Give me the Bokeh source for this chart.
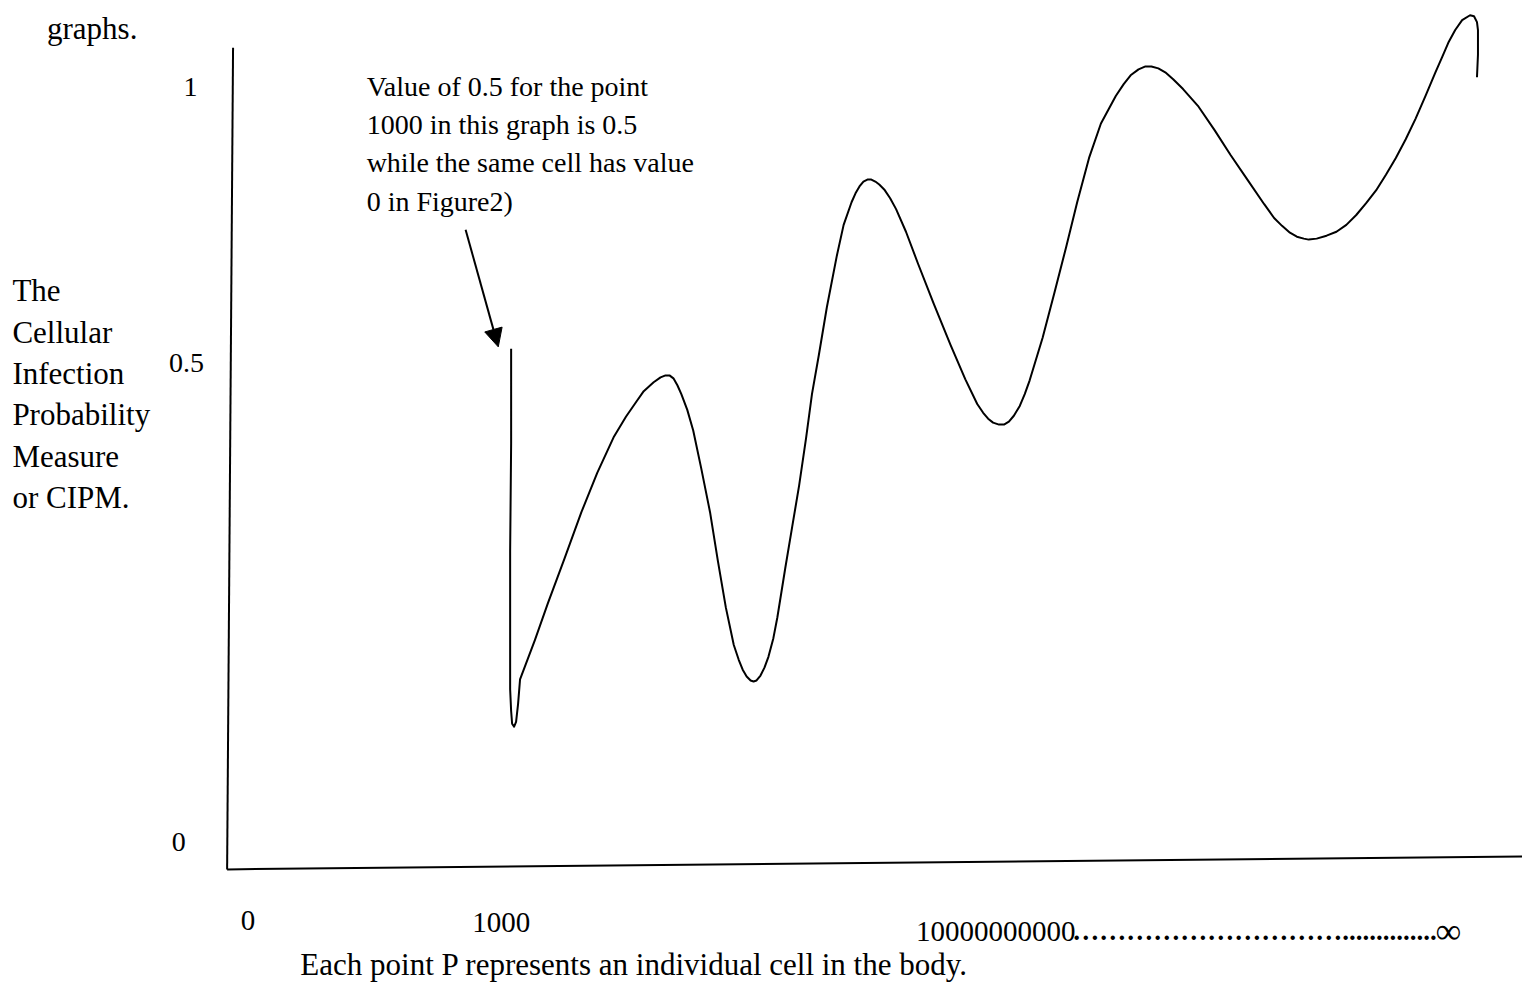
from bokeh.plotting import figure
from bokeh.models import Range1d, Label, Arrow, NormalHead
from bokeh.embed import file_html
from bokeh.resources import INLINE

# ---- data (drawing coordinates; y grows downward) ----
curve_x = [516, 516, 515, 515, 515, 516, 517, 519, 521, 523, 525,
           540, 553, 570, 587, 603, 620, 632, 643, 650, 660, 667, 672, 676, 680,
           684, 688, 694, 700, 708, 717, 725, 733, 741, 746, 750, 754, 758, 761,
           764, 768, 772, 776, 781, 785, 793, 800, 807, 814, 820, 827, 835, 845,
           852, 860, 864, 868, 872, 876, 880, 884, 888, 893, 899, 905, 915, 927,
           943, 960, 975, 987, 993, 998, 1003, 1009, 1014, 1019, 1024, 1030, 1035,
           1040, 1053, 1065, 1077, 1088, 1100, 1112, 1127, 1135, 1142, 1150, 1157,
           1163, 1170, 1177, 1185, 1195, 1210, 1227, 1243, 1260, 1277, 1287, 1295,
           1303, 1310, 1317, 1322, 1330, 1340, 1350, 1360, 1370, 1380, 1390, 1400,
           1410, 1420, 1430, 1440, 1450, 1457, 1463, 1470, 1477, 1485, 1489, 1492,
           1493, 1493, 1493, 1492]
curve_y = [354, 450, 560, 650, 700, 722, 735, 738, 733, 715, 690,
           650, 613, 567, 520, 480, 443, 423, 407, 397, 388, 383, 381, 381, 384,
           391, 400, 416, 437, 475, 520, 570, 617, 655, 670, 680, 687, 691, 692,
           691, 686, 678, 667, 648, 627, 577, 535, 493, 445, 400, 360, 312, 260,
           228, 205, 196, 189, 184, 182, 182, 184, 187, 192, 201, 212, 235, 267,
           308, 350, 385, 410, 419, 425, 429, 431, 431, 428, 422, 412, 400,
           386, 343, 297, 250, 205, 160, 125, 97, 85, 76, 70, 67,
           67, 69, 73, 80, 90, 107, 132, 157, 182, 207, 221, 229,
           236, 240, 242, 243, 242, 239, 235, 228, 218, 206, 193, 177,
           160, 141, 120, 97, 73, 57, 43, 30, 20, 15, 16, 22,
           30, 40, 55, 78]

y_tick_labels = ["1", "0.5", "0"]
x_tick_labels = ["0", "1000", "10000000000"]
x_tail_dots = "\u2026" * 10 + "." * 14
x_tail_end = "\u221e"
y_title_lines = ["The", "Cellular", "Infection", "Probability", "Measure", "or CIPM."]
note_lines = ["Value of 0.5 for the point",
              "1000 in this graph is 0.5",
              "while the same cell has value",
              "0 in Figure2)"]
caption = "Each point P represents an individual cell in the body."
heading = "graphs."

FONT = "Liberation Serif"

p = figure(width=1522, height=985, output_backend="svg", toolbar_location=None,
           x_range=Range1d(0, 1538), y_range=Range1d(1001, 0),
           x_axis_type=None, y_axis_type=None, min_border=0)
p.grid.visible = False
p.outline_line_color = None
p.background_fill_color = "white"
p.border_fill_color = "white"

# hand-drawn axes
p.line([235, 229], [48, 883], line_color="black", line_width=2)
p.line([229, 1538], [883, 870], line_color="black", line_width=2)

# curve
p.line(curve_x, curve_y, line_color="black", line_width=2, line_join="round")

# arrow
p.add_layout(Arrow(end=NormalHead(size=18, fill_color="black", line_color="black"),
                   x_start=470, y_start=233, x_end=503, y_end=352,
                   line_color="black", line_width=2))

def lab(x, y, t, size, align="left", style="normal"):
    p.add_layout(Label(x=x, y=y, text=t, text_font=FONT, text_font_size=f"{size}px",
                       text_align=align, text_baseline="alphabetic",
                       text_color="black", text_font_style=style))

lab(47, 28, heading, 31)

lab(192, 88, y_tick_labels[0], 28, "center")
lab(188, 368, y_tick_labels[1], 28, "center")
lab(180, 855, y_tick_labels[2], 28, "center")

for i, t in enumerate(y_title_lines):
    lab(12, 295 + 42 * i, t, 31)

for i, t in enumerate(note_lines):
    lab(370, 87 + 39 * i, t, 28)

lab(250, 935, x_tick_labels[0], 29, "center")
lab(506, 937, x_tick_labels[1], 29, "center")
lab(925, 946, x_tick_labels[2], 29)
lab(1083, 946, x_tail_dots, 27, style="bold")
lab(1450, 946, x_tail_end, 36)

lab(303, 980, caption, 31)

open("out.html", "w").write(file_html(p, INLINE))
